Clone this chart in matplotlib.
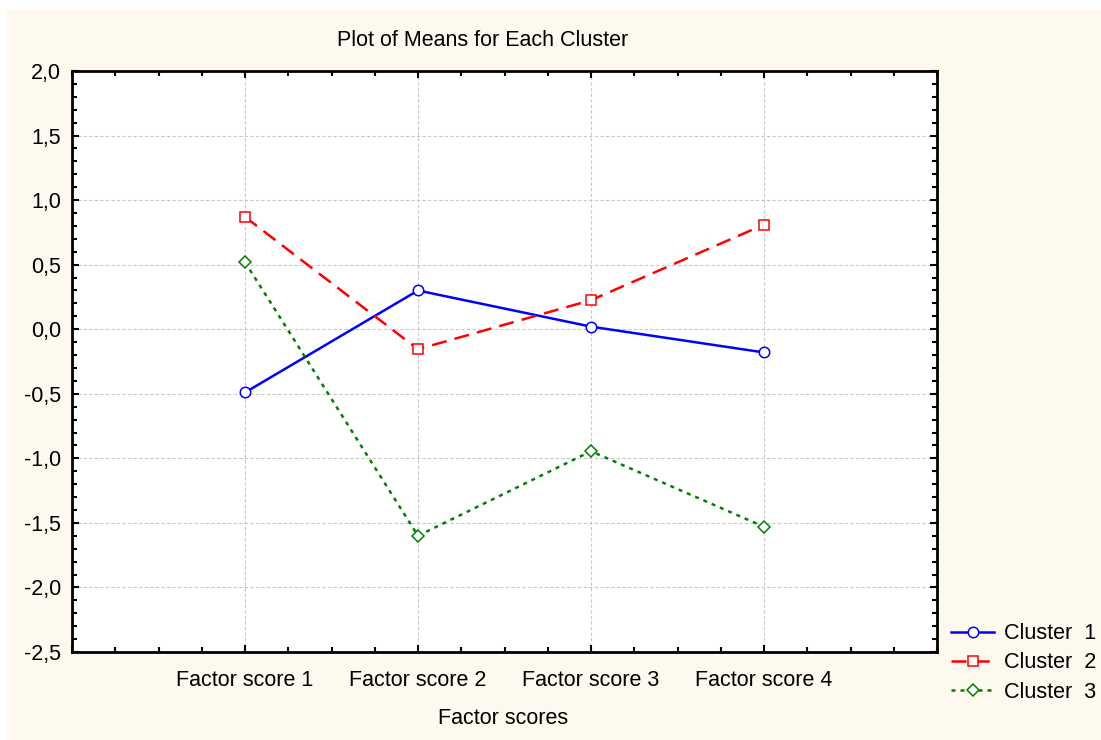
import matplotlib.pyplot as plt
from matplotlib.ticker import MultipleLocator, FuncFormatter
from matplotlib.patches import Rectangle

plt.rcParams['font.family'] = ['Liberation Sans', 'DejaVu Sans']

factors = ["Factor score 1", "Factor score 2", "Factor score 3", "Factor score 4"]
cluster1 = [-0.49, 0.30, 0.02, -0.18]
cluster2 = [0.87, -0.155, 0.225, 0.81]
cluster3 = [0.52, -1.60, -0.945, -1.53]

cream = "#fdf9ee"
fs = 15.5
fig = plt.figure(figsize=(11.01, 7.40), dpi=100)
fig.patch.set_facecolor("white")
fig.patches.append(Rectangle((7 / 1101, 0), 1, 1 - 10 / 740, transform=fig.transFigure,
                             facecolor=cream, edgecolor="none", zorder=-10))

ax = fig.add_axes([72 / 1101, 88 / 740, 865 / 1101, 581 / 740])
ax.set_facecolor("white")

x = list(range(1, len(factors) + 1))
lw = 1.8
ax.plot(x, cluster1, color="#0000ff", lw=lw, linestyle="-", marker="o", ms=7.5,
        mfc="white", mec="#0000ff", mew=1.1, label="Cluster  1", zorder=3)
ax.plot(x, cluster2, color="#ff0000", lw=lw, linestyle=(0, (6, 3.3)), marker="s", ms=7.5,
        mfc="white", mec="#ff0000", mew=1.1, label="Cluster  2", zorder=3)
ax.plot(x, cluster3, color="#008000", lw=lw, linestyle=(0, (1.6, 2.0)), marker="D", ms=6,
        mfc="white", mec="#008000", mew=1.1, label="Cluster  3", zorder=3)

ax.set_xlim(0, 5)
ax.set_ylim(-2.5, 2.0)
ax.set_xticks(x)
ax.set_xticklabels(factors)
ax.xaxis.set_minor_locator(MultipleLocator(0.25))
ax.yaxis.set_major_locator(MultipleLocator(0.5))
ax.yaxis.set_minor_locator(MultipleLocator(0.1))
ax.yaxis.set_major_formatter(FuncFormatter(lambda v, p: f"{v:.1f}".replace(".", ",")))

ax.tick_params(which="both", direction="in", top=True, right=True, colors="black",
               labelsize=fs, width=1.5)
ax.tick_params(which="major", length=5)
ax.tick_params(axis="x", which="major", pad=13)
ax.tick_params(axis="y", which="major", pad=8)
ax.tick_params(which="minor", length=3.5)
for s in ax.spines.values():
    s.set_linewidth(2)

ax.grid(True, which="major", color="#c8c8c8", linestyle=(0, (3, 2)), linewidth=0.8)
ax.set_axisbelow(True)

fig.text(483 / 1101, 1 - 40 / 740, "Plot of Means for Each Cluster", ha="center", va="center",
         fontsize=fs)
fig.text(503 / 1101, 1 - 719 / 740, "Factor scores", ha="center", va="center", fontsize=fs)

ax.legend(loc="center left", bbox_to_anchor=(951 / 1101, 1 - 663 / 740), bbox_transform=fig.transFigure,
          frameon=False, fontsize=fs, handlelength=2.0, handletextpad=0.45, labelspacing=0.38,
          borderaxespad=0, borderpad=0)

fig.savefig("out.png", dpi=100, facecolor=fig.get_facecolor())
